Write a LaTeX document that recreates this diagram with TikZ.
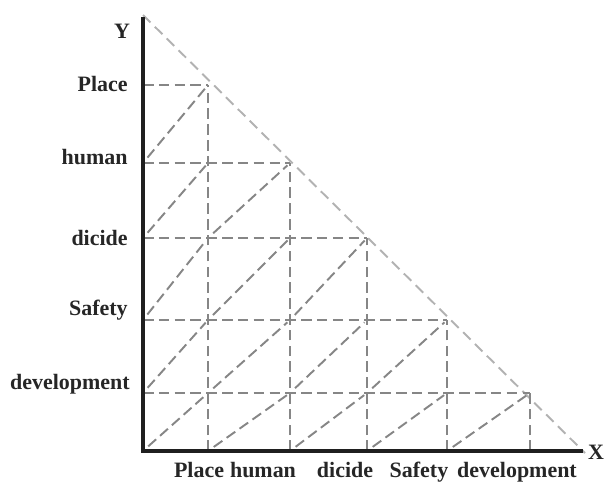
\documentclass[tikz,border=0pt]{standalone}
\usepackage{fontspec}
\setmainfont{Liberation Serif}
\usetikzlibrary{positioning}

\begin{document}
\begin{tikzpicture}[x=0.02cm,y=-0.02cm,
  every node/.style={font=\fontsize{12.5}{15}\selectfont\bfseries,inner sep=0pt,text=black!85},
  axisline/.style={line width=2.3pt,black!88},
  gridline/.style={line width=1.1pt,gray!95,dash pattern=on 6pt off 3pt},
  bigdiag/.style={line width=1.1pt,gray!60,dash pattern=on 6pt off 3.5pt}]
\useasboundingbox (0,0) rectangle (606,484);
\coordinate (o) at (143,451);
\coordinate (ytop) at (143,17);
\coordinate (xend) at (583,451);
\coordinate (dtop) at (143,15);
\coordinate (dend) at (585,453);
\foreach \i/\x in {0/143,1/208,2/290,3/367,4/447,5/530}
  \coordinate (x\i) at (\x,451);
\foreach \j/\y in {0/451,1/393,2/320,3/238,4/163,5/85}
  \coordinate (y\j) at (143,\y);
\draw[bigdiag] (dtop) -- (dend);
\foreach \j/\i in {1/5,2/4,3/3,4/2,5/1}
  \draw[gridline] (y\j) -- (x\i |- y\j);
\foreach \i/\j in {1/5,2/4,3/3,4/2,5/1}
  \draw[gridline] (x\i) -- (x\i |- y\j);
\foreach \i/\n in {0/4,1/3,2/2,3/1,4/0}
  \foreach \j in {0,...,\n}{
    \pgfmathtruncatemacro{\ii}{\i+1}
    \pgfmathtruncatemacro{\jj}{\j+1}
    \draw[gridline,shorten <=4pt,shorten >=2pt] (x\i |- y\j) -- (x\ii |- y\jj);
  }
\draw[axisline] (ytop) -- (o) -- (xend);
\node[anchor=base] (ylab) at (122,38) {Y};
\node[anchor=base] (xlab) at (596,459) {X};
\node[anchor=base east] (yplace) at (128,91) {Place};
\node[anchor=base east] (yhuman) at (128,164) {human};
\node[anchor=base east] (ydicide) at (128,245) {dicide};
\node[anchor=base east] (ysafety) at (128,315) {Safety};
\node[anchor=base east] (ydevel) at (130,389) {development};
\node[anchor=base] (xplace) at (199,477) {Place};
\node[anchor=base] (xhuman) at (263,477) {human};
\node[anchor=base] (xdicide) at (345,477) {dicide};
\node[anchor=base] (xsafety) at (419,477) {Safety};
\node[anchor=base] (xdevel) at (517,477) {development};
\end{tikzpicture}
\end{document}
